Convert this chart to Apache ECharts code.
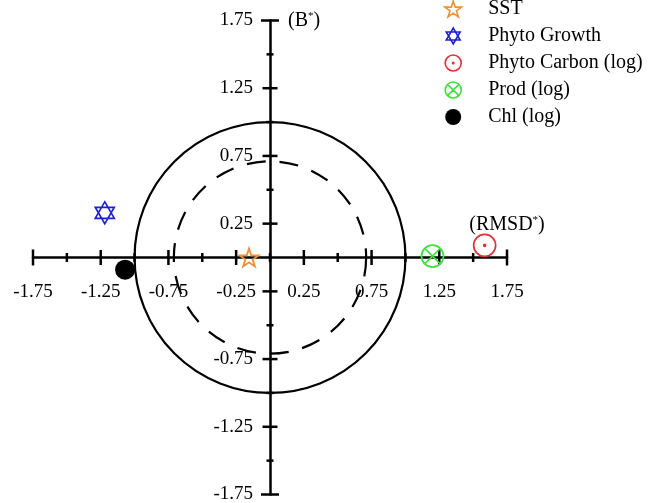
<!DOCTYPE html>
<html>
<head>
<meta charset="utf-8">
<script src="https://cdn.jsdelivr.net/npm/echarts@6/dist/echarts.min.js"></script>
<style>
html,body{margin:0;padding:0;background:#fff;}
#chart{width:659px;height:503px;}
</style>
</head>
<body>
<div id="chart"></div>
<script>
// ---- data ----
const seriesNames = ['SST', 'Phyto Growth', 'Phyto Carbon (log)', 'Prod (log)', 'Chl (log)'];
const sstPoint = [-0.155, 0.0];
const phytoGrowthPoint = [-1.22, 0.33];
const phytoCarbonPoint = [1.585, 0.09];
const prodPoint = [1.20, 0.01];
const chlPoint = [-1.07, -0.09];
const circleRadii = [1.0, 0.71];
const xTickValues = [-1.75, -1.5, -1.25, -1.0, -0.75, -0.5, -0.25, 0, 0.25, 0.5, 0.75, 1.0, 1.25, 1.5, 1.75];
const yTickValues = [-1.75, -1.5, -1.25, -1.0, -0.75, -0.5, -0.25, 0.25, 0.5, 0.75, 1.0, 1.25, 1.5, 1.75];
const xTickLabels = ['-1.75', '-1.25', '-0.75', '-0.25', '0.25', '0.75', '1.25', '1.75'];
const yTickLabels = ['-1.75', '-1.25', '-0.75', '0.25', '0.75', '1.25', '1.75'];

// ---- symbols ----
const starPath = 'path://M10 0 L12.25 6.91 L19.51 6.91 L13.63 11.18 L15.88 18.09 L10 13.82 L4.12 18.09 L6.37 11.18 L0.49 6.91 L7.75 6.91 Z';
const hexPath = 'path://M10 0 L18.66 15 L1.34 15 Z M10 20 L18.66 5 L1.34 5 Z';
const dotCirclePath = 'path://M10 0 A10 10 0 0 1 10 20 A10 10 0 0 1 10 0 Z M10 9.1 A0.9 0.9 0 0 1 10 10.9 A0.9 0.9 0 0 1 10 9.1 Z';
const xCirclePath = 'path://M10 0 A10 10 0 0 1 10 20 A10 10 0 0 1 10 0 Z M2.93 2.93 L17.07 17.07 M17.07 2.93 L2.93 17.07';

const cOrange = '#EE9035';
const cBlue = '#1E22CC';
const cRed = '#E0323A';
const cGreen = '#3FE03F';

const FONT = 'Liberation Serif';
const GRID = {left: 33, top: 20.5, width: 474, height: 474};

function fmt(v) { return (v < 0 ? '-' : '') + Math.abs(v).toFixed(2); }
function isMajor(v) { return Math.round(Math.abs(v) * 4) % 2 === 1; }

const chart = echarts.init(document.getElementById('chart'), null, {renderer: 'canvas'});

const option = {
  animation: false,
  backgroundColor: '#ffffff',
  textStyle: {fontFamily: FONT, color: '#000'},
  grid: {left: GRID.left, top: GRID.top, width: GRID.width, height: GRID.height, containLabel: false, outerBoundsMode: 'none'},
  legend: {
    orient: 'vertical',
    left: 444,
    top: -1,
    padding: 0,
    itemWidth: 60,
    itemHeight: 16,
    itemGap: 7,
    selectedMode: false,
    textStyle: {fontFamily: FONT, fontSize: 20, color: '#000'},
    data: [
      {name: seriesNames[0], icon: starPath, itemStyle: {color: 'transparent', borderColor: cOrange, borderWidth: 1.6, opacity: 1}},
      {name: seriesNames[1], icon: hexPath, itemStyle: {color: 'transparent', borderColor: cBlue, borderWidth: 1.6, opacity: 1}},
      {name: seriesNames[2], icon: dotCirclePath, itemStyle: {color: 'transparent', borderColor: cRed, borderWidth: 1.6, opacity: 1}},
      {name: seriesNames[3], icon: xCirclePath, itemStyle: {color: 'transparent', borderColor: cGreen, borderWidth: 1.6, opacity: 1}},
      {name: seriesNames[4], icon: 'circle', itemStyle: {color: '#000', borderWidth: 0, opacity: 1}}
    ]
  },
  xAxis: {
    type: 'value', min: -1.75, max: 1.75, interval: 0.25,
    position: 'bottom', offset: -GRID.height / 2,
    name: '(RMSD{sup|*})',
    nameLocation: 'end', nameGap: 0,
    nameTextStyle: {
      fontFamily: FONT, fontSize: 20, color: '#000',
      align: 'center', verticalAlign: 'bottom', padding: [0, 0, 23, 0],
      rich: {sup: {fontFamily: FONT, fontSize: 11, verticalAlign: 'top', padding: [0, 0, 8, 0]}}
    },
    axisLine: {show: true, onZero: false, lineStyle: {color: '#000', width: 2.5}},
    axisTick: {show: false},
    splitLine: {show: false},
    axisLabel: {
      show: true, margin: 25, fontFamily: FONT, fontSize: 19, color: '#000',
      showMinLabel: true, showMaxLabel: true, hideOverlap: false,
      formatter: function (v) { const s = fmt(v); return xTickLabels.indexOf(s) >= 0 ? s : ''; }
    }
  },
  yAxis: {
    type: 'value', min: -1.75, max: 1.75, interval: 0.25,
    position: 'left', offset: -GRID.width / 2,
    name: '(B{sup|*})',
    nameLocation: 'end', nameGap: 0,
    nameTextStyle: {
      fontFamily: FONT, fontSize: 20, color: '#000',
      align: 'left', verticalAlign: 'middle', padding: [0, 0, 0, 18],
      rich: {sup: {fontFamily: FONT, fontSize: 11, verticalAlign: 'top', padding: [0, 0, 8, 0]}}
    },
    axisLine: {show: true, onZero: false, lineStyle: {color: '#000', width: 2.5}},
    axisTick: {show: false},
    splitLine: {show: false},
    axisLabel: {
      show: true, margin: 17, fontFamily: FONT, fontSize: 19, color: '#000',
      showMinLabel: true, showMaxLabel: true, hideOverlap: false,
      formatter: function (v) { const s = fmt(v); return yTickLabels.indexOf(s) >= 0 ? s : ''; }
    }
  },
  series: [
    {
      type: 'custom', name: 'circles', silent: true, z: 1,
      data: circleRadii.map(function (r, i) { return [0, 0, r, i]; }),
      renderItem: function (params, api) {
        const c = api.coord([api.value(0), api.value(1)]);
        const r = api.size([api.value(2), 0])[0];
        const dashed = api.value(3) === 1;
        return {
          type: 'circle',
          shape: {cx: c[0], cy: c[1], r: r},
          style: {fill: 'none', stroke: '#000', lineWidth: 2.2, lineDash: dashed ? [19, 14] : null}
        };
      }
    },
    {
      type: 'custom', name: 'xticks', silent: true, z: 3,
      data: xTickValues.map(function (v) { return [v, 0]; }),
      renderItem: function (params, api) {
        const v = api.value(0);
        const p = api.coord([v, 0]);
        const L = Math.abs(v) === 1.75 ? 8 : (isMajor(v) ? 7.5 : 4.5);
        return {type: 'line', shape: {x1: p[0], y1: p[1] - L, x2: p[0], y2: p[1] + L},
          style: {stroke: '#000', lineWidth: 2.5}};
      }
    },
    {
      type: 'custom', name: 'yticks', silent: true, z: 3,
      data: yTickValues.map(function (v) { return [0, v]; }),
      renderItem: function (params, api) {
        const v = api.value(1);
        const p = api.coord([0, v]);
        const L = Math.abs(v) === 1.75 ? 9 : (isMajor(v) ? 7.5 : 3.5);
        return {type: 'line', shape: {x1: p[0] - L, y1: p[1], x2: p[0] + L, y2: p[1]},
          style: {stroke: '#000', lineWidth: 2.5}};
      }
    },
    {
      type: 'scatter', name: seriesNames[0], z: 5, silent: true,
      symbol: starPath, symbolSize: [19, 18],
      itemStyle: {color: 'transparent', borderColor: cOrange, borderWidth: 1.8, opacity: 1},
      data: [sstPoint]
    },
    {
      type: 'scatter', name: seriesNames[1], z: 5, silent: true,
      symbol: hexPath, symbolSize: [19, 22],
      itemStyle: {color: 'transparent', borderColor: cBlue, borderWidth: 1.7, opacity: 1},
      data: [phytoGrowthPoint]
    },
    {
      type: 'scatter', name: seriesNames[2], z: 5, silent: true,
      symbol: dotCirclePath, symbolSize: 22,
      itemStyle: {color: 'transparent', borderColor: cRed, borderWidth: 1.7, opacity: 1},
      data: [phytoCarbonPoint]
    },
    {
      type: 'scatter', name: seriesNames[3], z: 5, silent: true,
      symbol: xCirclePath, symbolSize: 22,
      itemStyle: {color: 'transparent', borderColor: cGreen, borderWidth: 1.7, opacity: 1},
      data: [prodPoint]
    },
    {
      type: 'scatter', name: seriesNames[4], z: 5, silent: true,
      symbol: 'circle', symbolSize: 20,
      itemStyle: {color: '#000', opacity: 1},
      data: [chlPoint]
    }
  ]
};
chart.setOption(option);
</script>
</body>
</html>
